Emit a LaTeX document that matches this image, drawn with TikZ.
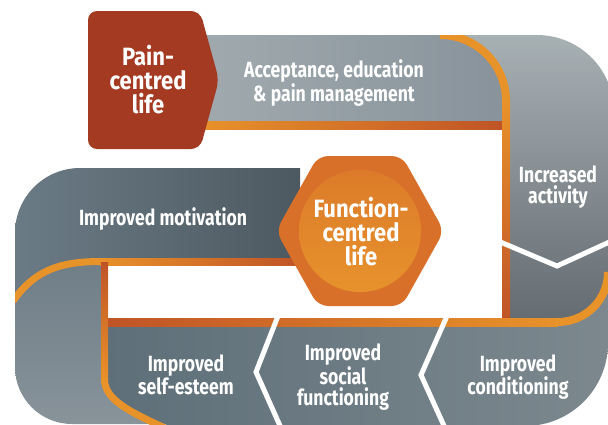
\documentclass[tikz,border=0pt]{standalone}
\usepackage{fontspec}
\newfontfamily\labelfont{Fira Sans}[FakeStretch=0.8]
\newfontfamily\bigfont{Fira Sans}[FakeStretch=0.88]

\definecolor{painred}{HTML}{A53A22}
\definecolor{hexout}{HTML}{D9702A}
\definecolor{hexinT}{HTML}{DC7B2A}
\definecolor{hexinB}{HTML}{E7922C}
\definecolor{orangeA}{HTML}{E8922A}
\definecolor{orangeB}{HTML}{BF5327}
\definecolor{topL}{HTML}{A0AAAE}
\definecolor{topR}{HTML}{86919A}
\definecolor{rightT}{HTML}{A7B0B3}
\definecolor{rightM}{HTML}{98A1A4}
\definecolor{rightB}{HTML}{62696F}
\definecolor{motL}{HTML}{6B7B85}
\definecolor{motR}{HTML}{4D5961}
\definecolor{leftT}{HTML}{6B7A84}
\definecolor{leftB}{HTML}{88939A}
\definecolor{botL}{HTML}{5E6F79}
\definecolor{botR}{HTML}{7C888E}

\tikzset{
  bandtext/.style={text=white, align=center, inner sep=0pt,
    font=\labelfont\bfseries\fontsize{22}{21}\selectfont},
  bigtext/.style={text=white, align=center, inner sep=0pt,
    font=\bigfont\bfseries\fontsize{25}{24}\selectfont},
  divider/.style={white, line width=5pt},
}

\begin{document}
\begin{tikzpicture}[x=1pt,y=-1pt]
    \useasboundingbox (0,0) rectangle (608,424);
    \clip (0,0) rectangle (608,424);

    % Left turn
    \shade[top color=leftT, bottom color=leftB] (15,230) -- (15,367) arc[start angle=180, end angle=90, radius=57] -- (150,424) -- (106,330) -- (106,230) -- cycle;

    % Motivation band
    \shade[left color=motL, right color=motR] (15,298) -- (15,233) arc[start angle=180, end angle=270, radius=65] -- (300,168) -- (300,262) -- (100,262) .. controls (60,262) and (35,272) .. (15,298) -- cycle;

    % Top band
    \shade[left color=topL, right color=topR] (200,35) rectangle (520,121);
    \shade[left color=orangeA, right color=orangeB] (200,121) rectangle (506,129);

    % Right band turning down
    \shade[top color=rightT, middle color=rightM, bottom color=rightB] (440,35) -- (537,35) arc[start angle=270, end angle=360, radius=77] -- (614,330) -- (506,330) -- (506,101) arc[start angle=0, end angle=-90, radius=66] -- cycle;
    \begin{scope}
        \clip (0,35) rectangle (608,424);
        \draw[orangeA, line width=8pt] (440,35) arc[start angle=-90, end angle=0, radius=66];
    \end{scope}
    \shade[top color=orangeA, bottom color=orangeB] (502,101) rectangle (510,322);
    \draw[divider] (498,241) -- (557,266) -- (616,239);

    % Bottom band
    \shade[left color=botL, right color=botR] (104,322) -- (558,322) arc[start angle=90, end angle=0, radius=50] -- (608,343) arc[start angle=0, end angle=90, radius=83] -- (170,426) .. controls (125,410) and (104,398) .. (104,378) -- cycle;
    \shade[left color=orangeB, right color=orangeA] (101,318) rectangle (558,326);
    \draw[orangeA, line width=8pt] (558,322) arc[start angle=90, end angle=0, radius=50];

    % Stripes round the white middle
    \begin{scope}
        \clip (15,0) rectangle (608,424);
        \draw[orangeA, line width=7pt] (13,301) .. controls (35,270) and (60,261.5) .. (101,261.5);
    \end{scope}
    \shade[left color=orangeA, right color=orangeB] (100,258) rectangle (300,265);
    \shade[top color=orangeB, bottom color=orangeA] (101,262) rectangle (108,380);
    \draw[orangeA, line width=7pt] (104.5,379) .. controls (104.5,398) and (125,410) .. (165,428);

    % Dividers
    \draw[divider] (278,316) -- (256,372) -- (281,428);
    \draw[divider] (447,316) -- (421,375) -- (445,428);

    % Pain-centred box
    \fill[painred, rounded corners=9pt] (88,11) -- (200,11) -- (219,80) -- (200,149) -- (88,149) -- cycle;

    % Function-centred hexagon
    \fill[hexout, rounded corners=10pt] (276,231) -- (318,156) -- (402,156) -- (444,231) -- (402,306) -- (318,306) -- cycle;
    \shade[top color=hexinT, bottom color=hexinB] (360,231) circle[radius=61];

    % Labels
    \node[bigtext] (pain) at (148,80) {Pain-\\centred\\life};
    \node[bigtext] (function) at (361,232) {Function-\\centred\\life};
    \node[bandtext] (acceptance) at (334,83) {Acceptance, education\\\& pain management};
    \node[bandtext] (motivation) at (163,219) {Improved motivation};
    \node[bandtext] (activity) at (558,187) {Increased\\activity};
    \node[bandtext] (esteem) at (186,375) {Improved\\self-esteem};
    \node[bandtext] (social) at (343,377) {Improved\\social\\functioning};
    \node[bandtext] (conditioning) at (518,377) {Improved\\conditioning};
\end{tikzpicture}
\end{document}
